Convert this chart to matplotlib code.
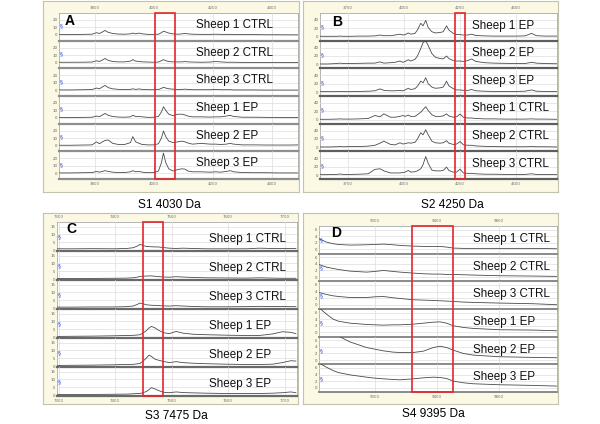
import matplotlib
matplotlib.use('Agg')
import matplotlib.pyplot as plt
from matplotlib.patches import Rectangle

# ---------------- data ----------------
# Panel A  (S1 4030 Da)
A_x = [3680, 3720, 3760, 3790, 3805, 3815, 3825, 3834, 3845, 3860, 3880, 3900, 3920, 3928, 3938,
       3950, 3960, 3980, 4000, 4015, 4025, 4032, 4040, 4050, 4065, 4080, 4095, 4105, 4115, 4130,
       4160, 4190, 4210, 4225, 4245, 4258, 4270, 4300, 4340, 4380, 4420, 4460, 4488]
A_S1_CTRL = [0.5, 0.5, 0.8, 1.0, 3.0, 2.0, 4.0, 6.0, 3.5, 2.0, 1.2, 1.0, 1.5, 2.5, 1.5, 2.5, 1.5, 0.8, 0.8, 1.0,
             3.0, 5.0, 4.0, 2.5, 1.5, 1.0, 1.5, 2.0, 1.5, 1.0, 0.8, 0.8, 1.0, 0.8, 0.8, 0.8, 0.5, 0.5, 0.5, 0.3,
             0.3, 0.2, 0.2]
A_S2_CTRL = [0.5, 0.5, 0.6, 0.8, 2.5, 1.5, 3.5, 5.5, 3.0, 1.5, 1.0, 1.0, 2.0, 4.0, 2.0, 1.5, 1.0, 0.8, 0.5, 0.8,
             2.5, 4.0, 2.5, 1.5, 1.0, 1.0, 1.0, 1.5, 1.0, 0.8, 0.5, 0.8, 1.5, 1.0, 0.5, 0.5, 0.5, 0.3, 0.3, 0.3,
             0.3, 0.3, 0.3]
A_S3_CTRL = [0.5, 0.5, 0.8, 1.0, 3.0, 2.0, 4.5, 6.5, 3.5, 2.0, 1.2, 1.0, 1.2, 2.0, 1.2, 1.8, 1.2, 0.8, 0.8, 1.0,
             2.5, 4.0, 3.0, 2.0, 1.5, 1.0, 1.2, 1.5, 1.2, 0.8, 0.8, 0.8, 1.2, 0.8, 0.8, 0.8, 0.5, 0.5, 0.5, 0.3,
             0.3, 0.3, 0.3]
A_S1_EP = [0.5, 0.5, 0.8, 1.0, 2.5, 1.8, 4.0, 6.0, 3.5, 2.0, 1.2, 1.0, 1.5, 3.5, 2.0, 2.0, 1.5, 0.8, 1.0, 2.0,
           8.0, 15.0, 10.0, 5.0, 3.0, 5.0, 5.0, 4.0, 2.5, 1.5, 1.5, 1.2, 1.5, 1.5, 2.5, 3.5, 2.0, 1.0, 1.0, 0.8,
           0.5, 0.5, 0.5]
A_S2_EP = [0.5, 0.5, 0.8, 1.0, 5.0, 2.5, 5.0, 7.0, 7.5, 3.0, 1.5, 1.5, 4.0, 12.0, 5.0, 3.0, 1.5, 1.0, 1.0, 2.5,
           10.0, 19.5, 12.0, 6.0, 4.0, 5.0, 6.0, 5.0, 3.5, 2.0, 3.0, 2.0, 2.0, 1.5, 2.0, 3.0, 2.0, 1.0, 1.0, 0.8,
           0.8, 0.8, 1.0]
A_S3_EP = [0.5, 0.5, 0.8, 1.0, 2.5, 1.5, 2.5, 3.5, 2.5, 1.5, 1.0, 1.0, 2.0, 3.5, 2.0, 2.5, 1.5, 0.8, 1.0, 3.0,
           14.0, 27.0, 14.0, 6.0, 3.0, 5.0, 6.0, 5.5, 3.0, 2.0, 2.0, 1.5, 2.0, 1.5, 2.5, 3.5, 2.0, 1.0, 0.8, 0.8,
           0.5, 0.5, 0.5]
A_labels = ['Sheep 1 CTRL', 'Sheep 2 CTRL', 'Sheep 3 CTRL', 'Sheep 1 EP', 'Sheep 2 EP', 'Sheep 3 EP']
A_xticks = [3800, 4000, 4200, 4400]
A_yticks = [0, 10, 20]

# Panel B  (S2 4250 Da)
B_x = [3625, 3660, 3700, 3714, 3730, 3760, 3800, 3840, 3870, 3893, 3910, 3940, 3960, 3982, 3995, 4005,
       4019, 4030, 4049, 4060, 4075, 4085, 4097, 4108, 4124, 4140, 4161, 4175, 4190, 4200, 4220, 4235,
       4250, 4265, 4285, 4302, 4320, 4360, 4400, 4450, 4500, 4540, 4570, 4590, 4630, 4682]
B_S1_EP = [1, 1, 1, 1.5, 1, 1, 1.5, 1.5, 2, 4, 2.5, 2.5, 4, 6, 4, 5, 9, 6, 8, 16,
           32, 26, 39, 22, 12, 9, 10, 12, 26, 16, 8, 5, 5, 4, 4, 6, 3, 2, 1.5, 1.5,
           1.5, 2, 8, 2.5, 1.5, 1.5]
B_S2_EP = [1, 1, 2, 3, 2, 2, 2.5, 3, 3, 6, 3, 4, 5, 8, 5, 7, 11, 8, 12, 20,
           38, 52, 56, 45, 26, 17, 14, 13, 20, 14, 9, 8, 8, 7, 9, 13, 7, 4, 3, 2.5,
           2, 2, 5, 3, 2, 1.5]
B_S3_EP = [1, 1, 1, 1.5, 1, 1, 1.5, 2, 3, 7.5, 4, 3, 3, 4, 3, 5, 9, 6, 8, 14,
           26, 22, 34, 20, 12, 9, 10, 12, 26, 15, 8, 5, 5, 4, 4, 6, 3, 2, 1.5, 1.5,
           1.5, 2, 5, 2, 1.5, 1.5]
B_S1_CTRL = [1, 1, 1.5, 2, 1.5, 1.5, 2, 3, 10, 7, 14, 6, 6, 8, 10, 8, 11, 8, 8, 12,
             18, 24, 31, 22, 12, 8, 8, 9, 14, 9, 6, 7, 13.5, 6, 4, 4, 3, 2, 2, 1.5,
             1.5, 1.5, 2, 1.5, 1.5, 1]
B_S2_CTRL = [1, 1, 1.5, 2, 1.5, 2, 2, 3, 5, 10, 15, 7, 6, 11, 8, 9, 11, 10, 12, 20,
             35, 30, 42, 30, 15, 11, 10, 11, 16, 10, 7, 8, 14, 6, 5, 5, 3.5, 2.5, 2, 1.5,
             1.5, 1.5, 2, 1.5, 1.5, 1]
B_S3_CTRL = [1, 1, 1.5, 2.5, 1.5, 1.5, 2, 3, 13.5, 15, 10, 5, 5, 5, 6, 7, 11, 7, 8, 10,
             15, 25, 44, 28, 12, 10, 10, 11, 19, 11, 7, 7, 14, 5, 4, 4, 3, 2, 2, 1.5,
             1.5, 1.5, 3, 1.5, 1.5, 1]
B_labels = ['Sheep 1 EP', 'Sheep 2 EP', 'Sheep 3 EP', 'Sheep 1 CTRL', 'Sheep 2 CTRL', 'Sheep 3 CTRL']
B_xticks = [3750, 4000, 4250, 4500]
B_yticks = [0, 20, 40]

# Panel C  (S3 7475 Da)
C_x = [7297, 7326, 7361, 7397, 7420, 7432, 7439, 7444, 7449, 7455, 7460, 7464, 7470, 7476, 7485,
       7496, 7508, 7520, 7538, 7561, 7596, 7632, 7655, 7679, 7696, 7711, 7720]
C_S1_CTRL = [0.8, 0.8, 0.9, 0.8, 1.0, 1.5, 2.5, 3.6, 3.0, 2.3, 2.2, 2.1, 2.0, 2.0, 1.6,
             1.2, 1.0, 1.2, 1.0, 0.8, 0.8, 0.8, 1.2, 1.0, 1.0, 1.0, 1.0]
C_S2_CTRL = [0.3, 0.3, 0.4, 0.5, 0.6, 0.8, 1.2, 1.7, 1.8, 1.9, 2.0, 2.0, 1.8, 1.6, 1.3,
             1.2, 1.5, 1.3, 1.0, 0.8, 0.7, 0.6, 0.8, 0.6, 0.5, 0.5, 0.5]
C_S3_CTRL = [0.6, 0.6, 0.7, 0.7, 0.9, 1.3, 2.3, 3.2, 2.8, 2.1, 1.9, 1.8, 1.7, 1.6, 1.4,
             1.3, 1.5, 1.3, 1.0, 0.8, 0.8, 0.9, 1.1, 1.0, 1.0, 0.9, 0.9]
C_S1_EP = [0.4, 0.5, 0.6, 0.8, 1.0, 1.1, 1.3, 1.5, 2.5, 4.0, 5.8, 6.8, 6.0, 4.5, 2.8,
           2.2, 3.6, 2.5, 1.8, 1.5, 1.2, 1.0, 1.0, 2.0, 3.4, 3.0, 2.2]
C_S2_EP = [0.4, 0.5, 0.6, 0.8, 1.0, 1.1, 1.4, 1.7, 3.0, 5.0, 7.0, 6.2, 4.5, 3.8, 3.0,
           2.2, 2.8, 2.2, 1.8, 1.5, 1.2, 1.0, 1.0, 1.2, 2.2, 3.4, 3.2]
C_S3_EP = [0.3, 0.3, 0.4, 0.5, 0.6, 0.8, 1.0, 1.0, 1.5, 2.2, 3.5, 4.7, 4.0, 3.0, 1.8,
           1.5, 2.0, 1.6, 1.4, 1.2, 1.0, 1.0, 1.0, 1.2, 1.5, 2.0, 1.5]
C_labels = A_labels
C_xticks = [7300, 7400, 7500, 7600, 7700]
C_yticks = [0, 5, 10, 15]

# Panel D  (S4 9395 Da)
D_x = [8639, 8688, 8731, 8764, 8839, 8946, 9000, 9054, 9118, 9161, 9247, 9312, 9376, 9419, 9462,
       9505, 9570, 9634, 9806, 10021, 10172]
D_S1_CTRL = [3.2, 2.2, 1.7, 1.5, 1.3, 1.4, 1.5, 1.6, 1.4, 1.2, 1.0, 0.9, 0.9, 0.9, 0.7,
             0.4, 0.3, 0.3, 0.3, 0.3, 0.2]
D_S2_CTRL = [3.8, 3.0, 2.6, 2.3, 1.8, 1.5, 1.7, 2.0, 1.7, 1.5, 1.2, 1.0, 0.9, 0.9, 0.8,
             0.8, 0.7, 0.6, 0.4, 0.3, 0.2]
D_S3_CTRL = [3.7, 3.1, 2.7, 2.5, 2.2, 2.2, 2.4, 2.5, 2.1, 1.9, 1.5, 1.4, 1.3, 1.2, 1.1,
             1.0, 0.8, 0.7, 0.5, 0.3, 0.0]
D_S1_EP = [7.5, 5.5, 4.0, 3.4, 2.8, 2.4, 2.3, 2.2, 2.3, 2.3, 2.5, 2.8, 3.1, 3.2, 2.8,
           2.0, 1.5, 1.2, 0.8, 0.7, 0.5]
D_S2_EP = [12.0, 10.0, 8.5, 7.3, 5.5, 3.8, 3.3, 2.8, 2.4, 2.3, 2.3, 2.7, 3.8, 4.2, 3.8,
           3.0, 2.0, 1.5, 1.0, 0.8, 0.7]
D_S3_EP = [7.5, 6.2, 5.2, 4.6, 3.9, 3.2, 2.9, 2.7, 2.5, 2.4, 2.7, 3.0, 3.2, 3.1, 2.8,
           2.0, 1.5, 1.2, 0.9, 0.7, 0.5]
D_labels = A_labels
D_xticks = [9000, 9400, 9800]
D_yticks = [0, 2, 4, 6]

# ---------------- drawing ----------------
W, H = 600, 424
fig = plt.figure(figsize=(6, 4.24), dpi=100)
fig.patch.set_facecolor('white')
FONT = ['Liberation Sans', 'DejaVu Sans']


def add_ax(x0, y0, x1, y1, z=1):
    ax = fig.add_axes([x0 / W, 1 - y1 / H, (x1 - x0) / W, (y1 - y0) / H])
    ax.set_zorder(z)
    return ax


def panel(frame, plot, x, traces, labels, xlim, xticks, ylim, yticks, box,
          label_x, label_dy, letter, letter_xy, caption, caption_xy,
          sep_color, sep_lw, mark_dy):
    fx0, fy0, fx1, fy1 = frame
    fr = add_ax(fx0, fy0, fx1, fy1, z=0)
    fr.set_xticks([])
    fr.set_yticks([])
    fr.set_facecolor('#FBF8E4')
    for s in fr.spines.values():
        s.set_color('#C4C1AC')
        s.set_linewidth(0.8)

    px0, py0, px1, py1 = plot
    bg = add_ax(px0, py0, px1, py1, z=1)
    bg.set_facecolor('white')
    bg.set_xlim(xlim)
    bg.set_ylim(0, 1)
    bg.set_yticks([])
    bg.set_xticks(xticks)
    bg.set_xticklabels([str(t) for t in xticks])
    bg.tick_params(axis='x', top=True, labeltop=True, bottom=True, labelbottom=True,
                   length=0, labelsize=2.8, labelcolor='#707070', pad=2.5)
    for s in bg.spines.values():
        s.set_color('#A8A8A8')
        s.set_linewidth(0.6)

    n = len(traces)
    h = (py1 - py0) / n
    for i, (y, lab) in enumerate(zip(traces, labels)):
        top = py0 + i * h
        ax = add_ax(px0, top, px1, top + h, z=2)
        ax.set_facecolor('none')
        ax.set_axisbelow(True)
        ax.plot(x, y, color='#4A4A4A', lw=0.6, clip_on=True)
        ax.set_xlim(xlim)
        ax.set_ylim(ylim)
        ax.set_xticks(xticks)
        ax.set_yticks(yticks)
        ax.set_yticklabels([str(t) for t in yticks])
        ax.grid(True, color='#DDDDDD', lw=0.5)
        ax.tick_params(axis='x', length=0, labelbottom=False)
        ax.tick_params(axis='y', length=0, labelsize=2.8, labelcolor='#606060', pad=1.2)
        for k in ('top', 'left', 'right'):
            ax.spines[k].set_visible(False)
        ax.spines['bottom'].set_color(sep_color)
        ax.spines['bottom'].set_linewidth(sep_lw)
        ax.text((label_x - px0) / (px1 - px0), 1 - label_dy / h, lab, transform=ax.transAxes,
                ha='left', va='center', fontsize=8.4, family=FONT, color='#111111')
        ax.text(0.004, 1 - mark_dy / h, '§', transform=ax.transAxes, ha='left', va='center',
                fontsize=4.2, color='#2A46D8')

    ov = add_ax(px0, py0, px1, py1, z=3)
    ov.patch.set_visible(False)
    ov.axis('off')
    ov.set_xlim(xlim)
    ov.set_ylim(0, 1)
    ov.add_patch(Rectangle((box[0], 0), box[1] - box[0], 1, fill=False,
                           edgecolor='#E3262B', lw=1.2, clip_on=False))

    fig.text(letter_xy[0] / W, 1 - letter_xy[1] / H, letter, ha='left', va='center',
             fontsize=10, fontweight='bold', family=FONT, zorder=5)
    fig.text(caption_xy[0] / W, 1 - caption_xy[1] / H, caption, ha='center', va='center',
             fontsize=8.6, family=FONT)


panel(frame=(43, 1, 299, 192), plot=(59, 13, 298, 179), x=A_x,
      traces=[A_S1_CTRL, A_S2_CTRL, A_S3_CTRL, A_S1_EP, A_S2_EP, A_S3_EP], labels=A_labels,
      xlim=(3678, 4488), xticks=A_xticks, ylim=(-7.6, 29.3), yticks=A_yticks, box=(4003, 4071),
      label_x=196, label_dy=12, letter='A', letter_xy=(65, 21), caption='S1 4030 Da',
      caption_xy=(169, 205), sep_color='#8E8E8E', sep_lw=1.6, mark_dy=13)

panel(frame=(303, 1, 558, 192), plot=(320, 13, 557, 179), x=B_x,
      traces=[B_S1_EP, B_S2_EP, B_S3_EP, B_S1_CTRL, B_S2_CTRL, B_S3_CTRL], labels=B_labels,
      xlim=(3625, 4683), xticks=B_xticks, ylim=(-9.4, 56.5), yticks=B_yticks, box=(4229, 4274),
      label_x=472, label_dy=12.5, letter='B', letter_xy=(332, 22), caption='S2 4250 Da',
      caption_xy=(452, 205), sep_color='#5E5E5E', sep_lw=1.6, mark_dy=14)

panel(frame=(43, 213, 298, 404), plot=(57, 222, 297, 396), x=C_x,
      traces=[C_S1_CTRL, C_S2_CTRL, C_S3_CTRL, C_S1_EP, C_S2_EP, C_S3_EP], labels=C_labels,
      xlim=(7297, 7722), xticks=C_xticks, ylim=(-0.6, 17.9), yticks=C_yticks, box=(7449, 7485),
      label_x=209, label_dy=17, letter='C', letter_xy=(66, 229), caption='S3 7475 Da',
      caption_xy=(176, 416), sep_color='#6A6A6A', sep_lw=1.6, mark_dy=15)

panel(frame=(303, 213, 558, 404), plot=(319, 226, 557, 392), x=D_x,
      traces=[D_S1_CTRL, D_S2_CTRL, D_S3_CTRL, D_S1_EP, D_S2_EP, D_S3_EP], labels=D_labels,
      xlim=(8639, 10174), xticks=D_xticks, ylim=(-1.3, 7.1), yticks=D_yticks, box=(9239, 9503),
      label_x=473, label_dy=13, letter='D', letter_xy=(331, 233), caption='S4 9395 Da',
      caption_xy=(433, 414), sep_color='#8A8A8A', sep_lw=1.4, mark_dy=14)

fig.savefig('out.png', dpi=100, facecolor='white')
